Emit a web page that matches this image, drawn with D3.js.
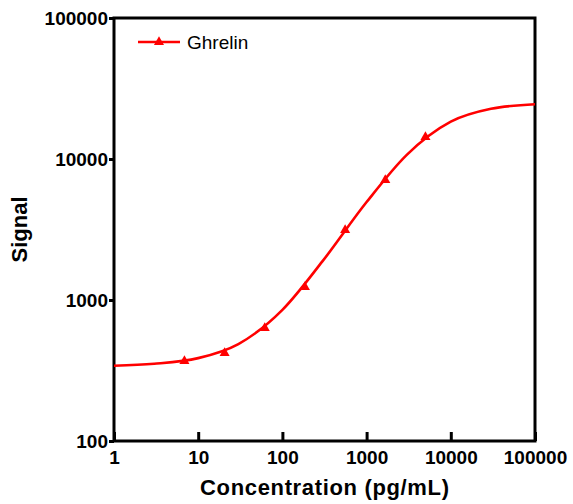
<!DOCTYPE html>
<html>
<head>
<meta charset="utf-8">
<script src="https://cdn.jsdelivr.net/npm/d3@7"></script>
<style>
  body { margin: 0; background: #fff; }
  svg { display: block; font-family: "Liberation Sans", Arial, sans-serif; }
</style>
</head>
<body>
<svg width="573" height="504"></svg>
<script>
// measured points (Ghrelin standards)
var concentration = [6.86, 20.6, 61.7, 185, 556, 1667, 5000];
var signal = [369, 421, 633, 1236, 3135, 7096, 14320];

// fitted curve
var curveX = [1, 3, 10, 30, 100, 300, 1000, 3000, 10000, 30000, 100000];
var curveY = [342, 353, 387, 487, 851, 1886, 4950, 10700, 18400, 22700, 24450];

var xTicks = [1, 10, 100, 1000, 10000, 100000];
var yTicks = [100, 1000, 10000, 100000];
var seriesName = "Ghrelin";

var svg = d3.select("svg"),
    margin = {top: 18, right: 38, bottom: 63, left: 114},
    width = +svg.attr("width") - margin.left - margin.right,
    height = +svg.attr("height") - margin.top - margin.bottom,
    g = svg.append("g").attr("transform", "translate(" + margin.left + "," + margin.top + ")");

var x = d3.scaleLog().domain([1, 100000]).range([0, width]);
var y = d3.scaleLog().domain([100, 100000]).range([height, 0]);

// x axis, ticks pointing inward
var xAxis = g.append("g")
    .attr("transform", "translate(0," + height + ")")
    .call(d3.axisBottom(x).tickValues(xTicks).tickSize(-9).tickPadding(10).tickFormat(d3.format("d")));
xAxis.select(".domain").remove();
xAxis.selectAll("line").attr("stroke", "#000").attr("stroke-width", 3);
xAxis.selectAll("text").attr("font-size", 19).attr("font-weight", "bold").attr("fill", "#000")
    .attr("font-family", "Liberation Sans, Arial, sans-serif");

// y axis
var yAxis = g.append("g")
    .call(d3.axisLeft(y).tickValues(yTicks).tickSize(5).tickPadding(1).tickFormat(d3.format("d")));
yAxis.select(".domain").remove();
yAxis.selectAll("line").attr("stroke", "#000").attr("stroke-width", 3);
yAxis.selectAll("text").attr("font-size", 19).attr("font-weight", "bold").attr("fill", "#000")
    .attr("font-family", "Liberation Sans, Arial, sans-serif");

// frame
g.append("rect")
    .attr("width", width)
    .attr("height", height)
    .attr("fill", "none")
    .attr("stroke", "#000")
    .attr("stroke-width", 3);

// fitted curve
var line = d3.line()
    .x(function(d) { return x(d[0]); })
    .y(function(d) { return y(d[1]); })
    .curve(d3.curveMonotoneX);

g.append("path")
    .datum(d3.zip(curveX, curveY))
    .attr("fill", "none")
    .attr("stroke", "#ff0000")
    .attr("stroke-width", 2.6)
    .attr("d", line);

// triangles
var tri = d3.symbol().type(d3.symbolTriangle).size(44);
g.selectAll(".pt")
    .data(d3.zip(concentration, signal))
    .enter().append("path")
      .attr("class", "pt")
      .attr("transform", function(d) { return "translate(" + x(d[0]) + "," + y(d[1]) + ")"; })
      .attr("d", tri)
      .attr("fill", "#ff0000");

// legend
var legend = g.append("g").attr("transform", "translate(24,24)");
legend.append("line")
    .attr("x1", 0).attr("x2", 42)
    .attr("stroke", "#ff0000").attr("stroke-width", 2.6);
legend.append("path")
    .attr("transform", "translate(21,0)")
    .attr("d", tri)
    .attr("fill", "#ff0000");
legend.append("text")
    .attr("x", 49)
    .attr("y", 7)
    .attr("font-size", 19)
    .attr("fill", "#000")
    .text(seriesName);

// axis titles
svg.append("text")
    .attr("x", margin.left + width / 2)
    .attr("y", 495)
    .attr("text-anchor", "middle")
    .attr("font-size", 22)
    .attr("font-weight", "bold")
    .attr("textLength", 249)
    .attr("lengthAdjust", "spacing")
    .text("Concentration (pg/mL)");

svg.append("text")
    .attr("transform", "translate(27," + (margin.top + height / 2) + ") rotate(-90)")
    .attr("text-anchor", "middle")
    .attr("font-size", 22)
    .attr("font-weight", "bold")
    .text("Signal");
</script>
</body>
</html>
